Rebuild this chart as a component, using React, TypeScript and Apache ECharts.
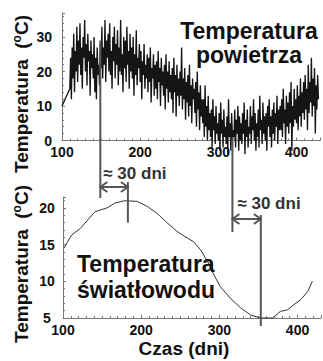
import React, { useEffect, useRef } from 'react';
import * as echarts from 'echarts';

// ---- data ----
const xTickValues = [100, 200, 300, 400];
const airYTicks = [0, 10, 20, 30];
const fiberYTicks = [5, 10, 15, 20];

// air temperature: one gap segment, then daily readings from day 110
const airFirstPoint = [100, 10];
const airStartDay = 110;
const airTemps = [
  15, 24, 12, 27, 18, 31, 14, 26, 20, 33,
  17, 29, 22, 34, 19, 27, 15, 30, 24, 35,
  20, 28, 16, 31, 23, 26, 13, 29, 21, 25,
  18, 30, 14, 24, 12, 27, 19, 22, 16, 28,
  21, 33, 18, 27, 22, 35, 17, 29, 24, 31,
  20, 34, 19, 26, 15, 30, 23, 33, 18, 28,
  22, 32, 16, 27, 20, 35, 19, 25, 14, 30,
  21, 29, 17, 33, 22, 26, 15, 31, 20, 27,
  18, 30, 13, 25, 19, 32, 16, 24, 21, 28,
  17, 26, 12, 23, 19, 28, 15, 22, 18, 25,
  14, 24, 17, 27, 11, 21, 18, 25, 13, 22,
  15, 23, 12, 26, 17, 21, 10, 24, 16, 20,
  13, 22, 9, 25, 15, 20, 11, 23, 14, 19,
  12, 21, 8, 24, 14, 19, 7, 22, 13, 18,
  10, 20, 13, 27, 9, 18, 12, 21, 6, 17,
  11, 19, 7, 22, 10, 16, 5, 18, 12, 15,
  8, 17, 4, 20, 9, 14, 3, 16, 7, 12,
  5, 12, 1, 16, 4, 10, 0, 13, 3, 8,
  1, 9, -2, 12, 3, 7, -1, 10, 2, 5,
  0, 8, -3, 11, 2, 6, -2, 9, 1, 4,
  -1, 7, -4, 12, 1, 5, -3, 8, 0, 3,
  1, 9, -2, 6, 2, 10, -3, 7, 0, 5,
  -1, 8, 2, 11, -4, 6, 1, 9, -2, 4,
  2, 10, -1, 7, 3, 12, 0, 8, -3, 5,
  1, 9, -2, 13, 3, 6, -1, 11, 2, 7,
  0, 8, -3, 10, 4, 12, 1, 7, -2, 9,
  2, 11, 0, 8, 4, 13, -1, 9, 3, 10,
  3, 12, 1, 15, 5, 9, -1, 13, 4, 11,
  2, 14, 5, 17, -3, 10, 4, 15, 6, 12,
  5, 16, 3, 13, 7, 18, 4, 14, 8, 17,
  6, 19, 9, 15, 3, 22, 8, 17, 11, 24,
  7, 18, 10, 21, 2, 16, 9, 19, 12,
];

// fibre temperature (smooth)
const fiberDays = [101, 111, 122, 132, 141, 147, 156, 167, 179, 195, 208, 220, 233, 246, 256, 267, 276, 285, 292, 301, 314, 327, 340, 353, 368, 378, 387, 395, 404, 413, 419];
const fiberTemps = [14.5, 16.3, 17.2, 18.4, 19.5, 19.7, 20.0, 20.7, 21.0, 20.9, 20.2, 19.3, 18.0, 16.8, 16.1, 15.4, 14.3, 12.7, 11.1, 9.3, 7.7, 6.4, 5.4, 5.0, 5.0, 5.9, 6.1, 6.8, 7.5, 8.6, 10.0];

// annotation anchor days
const airMarkDays = [149, 318];
const fiberMarkDays = [183, 353];
const lagLabel = '≈ 30 dni';

const FONT = '"Liberation Sans", Arial, sans-serif';
const AXIS_GRAY = '#777';
const ANN_GRAY = '#555';

export default function App() {
  const ref = useRef<HTMLDivElement>(null);

  useEffect(() => {
    document.body.style.margin = '0';
    const chart = echarts.init(ref.current!, null, { renderer: 'svg' });

    const airData = [airFirstPoint, ...airTemps.map((v, i) => [airStartDay + i, v])];
    const fiberData = fiberDays.map((d, i) => [d, fiberTemps[i]]);

    const xAxisBase = (gridIndex: number, margin: number) => ({
      type: 'value',
      gridIndex,
      min: 100,
      max: 430,
      interval: 100,
      axisLine: { show: true, onZero: false, lineStyle: { color: AXIS_GRAY, width: 1 } },
      axisTick: { show: true, inside: true, length: 3, lineStyle: { color: AXIS_GRAY } },
      minorTick: { show: true, splitNumber: 10, length: 2, lineStyle: { color: AXIS_GRAY } },
      splitLine: { show: false },
      axisLabel: {
        fontFamily: FONT, fontWeight: 'bold', fontSize: 14, color: '#111', margin,
        showMaxLabel: false,
        formatter: (v: number) => (xTickValues.includes(v) ? String(v) : ''),
      },
    });

    chart.setOption({
      animation: false,
      grid: [
        { left: 62, top: 13, width: 258, height: 127.5 },
        { left: 63, top: 197, width: 258, height: 121 },
      ],
      xAxis: [xAxisBase(0, 4), xAxisBase(1, 5)],
      yAxis: [
        {
          type: 'value', gridIndex: 0, min: 0, max: 37, interval: 10,
          axisLine: { show: true, lineStyle: { color: AXIS_GRAY } },
          axisTick: { show: true, inside: true, length: 3, lineStyle: { color: AXIS_GRAY } },
          minorTick: { show: true, splitNumber: 5, length: 2, lineStyle: { color: AXIS_GRAY } },
          splitLine: { show: false },
          axisLabel: {
            fontFamily: FONT, fontWeight: 'bold', fontSize: 14, color: '#111', margin: 10,
            showMaxLabel: false,
            formatter: (v: number) => (airYTicks.includes(v) ? String(v) : ''),
          },
        },
        {
          type: 'value', gridIndex: 1, min: 5, max: 21.5, interval: 5,
          axisLine: { show: true, lineStyle: { color: AXIS_GRAY } },
          axisTick: { show: true, inside: true, length: 3, lineStyle: { color: AXIS_GRAY } },
          minorTick: { show: true, splitNumber: 5, length: 2, lineStyle: { color: AXIS_GRAY } },
          splitLine: { show: false },
          axisLabel: {
            fontFamily: FONT, fontWeight: 'bold', fontSize: 14, color: '#111', margin: 16,
            align: 'center', showMaxLabel: false,
            formatter: (v: number) => (fiberYTicks.includes(v) ? String(v) : ''),
          },
        },
      ],
      series: [
        {
          type: 'line', xAxisIndex: 0, yAxisIndex: 0, data: airData,
          showSymbol: false, clip: false,
          lineStyle: { color: '#151515', width: 1.35 },
        },
        {
          type: 'line', xAxisIndex: 1, yAxisIndex: 1, data: fiberData,
          showSymbol: false, clip: false,
          lineStyle: { color: '#333', width: 1 },
        },
      ],
    });

    const p0 = (d: number, v: number) => chart.convertToPixel({ gridIndex: 0 } as any, [d, v]) as number[];
    const p1 = (d: number, v: number) => chart.convertToPixel({ gridIndex: 1 } as any, [d, v]) as number[];

    const lineStyle = { stroke: ANN_GRAY, lineWidth: 2, fill: 'none' };
    const vline = (x: number, y1: number, y2: number) => ({
      type: 'line', shape: { x1: x, y1, x2: x, y2 }, style: lineStyle, z: 100,
    });
    const arrow = (x1: number, x2: number, y: number) => [
      { type: 'line', shape: { x1, y1: y, x2, y2: y }, style: lineStyle, z: 100 },
      { type: 'polyline', shape: { points: [[x1 + 7, y - 5], [x1, y], [x1 + 7, y + 5]] }, style: lineStyle, z: 100 },
      { type: 'polyline', shape: { points: [[x2 - 7, y - 5], [x2, y], [x2 - 7, y + 5]] }, style: lineStyle, z: 100 },
    ];
    const titleText = (x: number, y: number, text: string, align: string) => ({
      type: 'text', x, y, z: 110,
      style: {
        text, fill: '#111', font: `bold 23px ${FONT}`,
        align, verticalAlign: 'middle',
      },
    });
    const lagText = (x: number, y: number) => ({
      type: 'text', x, y, z: 110,
      style: { text: lagLabel, fill: '#333', font: `bold 17px ${FONT}`, align: 'left', verticalAlign: 'middle' },
    });
    const yTitle = (x: number, y: number) => ({
      type: 'text', x, y, rotation: Math.PI / 2, z: 110,
      style: {
        text: '{a|Temperatura  (}{s|o}{a|C)}',
        align: 'center', verticalAlign: 'middle',
        rich: {
          a: { fontFamily: FONT, fontWeight: 'bold', fontSize: 19, fill: '#111', lineHeight: 22 },
          s: { fontFamily: FONT, fontWeight: 'bold', fontSize: 12, fill: '#111', lineHeight: 22, padding: [0, 0, 9, 0] },
        },
      },
    });

    const l1x = p0(airMarkDays[0], 0)[0];
    const l2x = p1(fiberMarkDays[0], 0)[0];
    const l3x = p0(airMarkDays[1], 0)[0];
    const l4x = p1(fiberMarkDays[1], 0)[0];
    const gridTop1 = p1(100, 21.5)[1];
    const a1y = gridTop1 - 10;
    const a2y = p1(100, 18.5)[1];

    chart.setOption({
      graphic: [
        vline(l1x, p0(airMarkDays[0], 29)[1], gridTop1 + 1),
        vline(l2x, a1y - 5, p1(fiberMarkDays[0], 18)[1]),
        ...arrow(l1x, l2x, a1y),
        vline(l3x, p0(airMarkDays[1], 1)[1], a2y + 13),
        vline(l4x, a2y - 4, p1(fiberMarkDays[1], 5)[1] + 8),
        ...arrow(l3x, l4x, a2y),
        lagText(l1x + 3, a1y - 14),
        lagText(l3x + 5, a2y - 16),
        titleText(249, 31, 'Temperatura', 'center'),
        titleText(249, 55, 'powietrza', 'center'),
        titleText(77, 264, 'Temperatura', 'left'),
        titleText(77, 290, 'światłowodu', 'left'),
        {
          type: 'text', x: 184, y: 348, z: 110,
          style: { text: 'Czas (dni)', fill: '#111', font: `bold 19px ${FONT}`, align: 'center', verticalAlign: 'middle' },
        },
        yTitle(21, 94),
        yTitle(21, 264),
      ],
    });

    return () => chart.dispose();
  }, []);

  return <div ref={ref} style={{ width: 323, height: 361 }} />;
}
